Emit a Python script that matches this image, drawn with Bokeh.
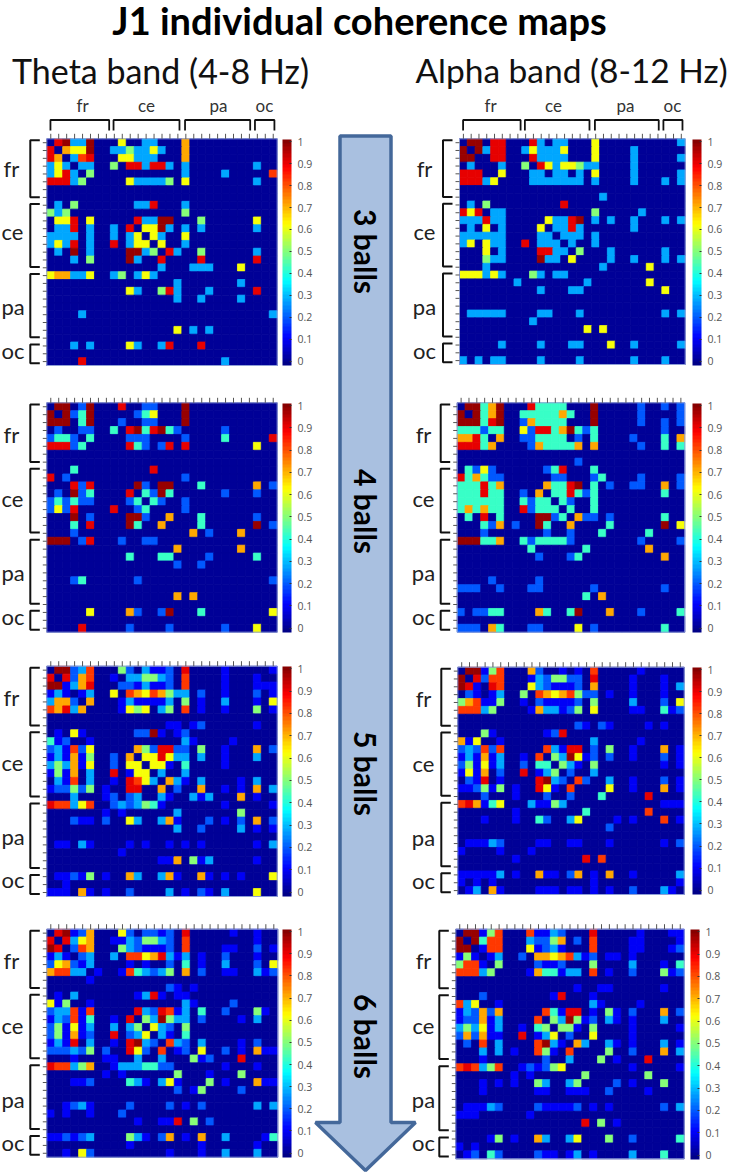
from math import pi
from bokeh.core.properties import value
from bokeh.embed import file_html
from bokeh.models import ColorBar, ColumnDataSource, FixedTicker, LinearColorMapper, Range1d
from bokeh.plotting import figure
from bokeh.resources import INLINE

# ---------- data: one string per row, one character per cell ----------
E = "..... ..... ..... ..... ..... ...."
CODE = {".": 0, "1": .1, "2": .2, "3": .28, "4": .42, "5": .5, "6": .62, "7": .72, "8": .82, "9": .9, "X": .98}
GROUPS = ["fr", "ce", "pa", "oc"]
GROUP_SPANS_ROW = [(.2, 7.47), (8.33, 16.4), (17.3, 25.4), (26.3, 28.7)]
GROUP_SPANS_COL = [(.46, 7.85), (8.4, 16.7), (17.4, 25.6), (26.2, 28.65)]
BAR_TICKS = [0, .1, .2, .3, .4, .5, .6, .7, .8, .9, 1]

THETA_3 = [
".9X33 X...6 ..33. ..7.. ..... ....",
"9.766 X..33 53363 ..7.. ..... ....",
"97.38 9...6 6333. ..7.. ..... ....",
"363.3 3..5. 99399 3.3.. ..... .3..",
"3693. 5.... ..... ..3.. ..3.. ...8",
"99935 ..... 63333 5.6.. ..... .3..",
E, E,
".3.5. ..... .339. ..3.. ..... ....",
"535.. ..... ..... ..5.. ..... ....",
".669. 6.... .933X X...5 ..... .6..",
".339. 3..3. 9.66X 3.3.3 ..... .3..",
"3333. 3..3. 36.63 ..6.. ..... ....",
"3639. 3..9. 366.6 ..3.. ..... ....",
".3.X. 3.... XX35. 93..5 ..... .3..",
"...3. 5.... X3..9 ....9 ..... .9..",
"..... ..... ....3 ...33 3...6 ....",
"67733 6..35 .363. ..... ..... ....",
"..... ..... ..... .3... ....3 ....",
"..... ..... 63..5 93... 3.... .9..",
"..... ..... ..... .3..3 ....3 ....",
E,
"....3 ..... ..... ..... ..... ...3",
E,
"..... ..... ..... .6.3. 3.... ....",
E,
"...3. 3.... 63..3 9...9 ..... ....",
E,
"....9 ..... ..... ..... ..3.. ....",
]
ALPHA_3 = [
".XX.9 9...9 3.33. ..6.. ..... ...3",
"X.X39 9..36 3336. ..6.. ..3.. ....",
"XX..9 9...9 3333. ..6.. ..3.. ...3",
".3... 3..5. 96366 533.. ..3.. ....",
"999.. 6...3 3.33. 3.6.. ..3.. ...3",
"99936 ....3 33333 3.3.. ..3.. .3.3",
E,
"..... ..... ..... ...3. ..... ....",
".3.5. ..... ...9. ..... ..... ....",
"969.3 3.... ..... ..5.. ...3. ....",
"33393 3.... .6339 X.3.3 ..3.. .3.3",
".3.6. 3.... 6.339 3.... ..3.. ....",
"33333 3.... 33.33 3.3.. ..... ....",
"36.63 3..9. 333.3 ..3.. ..... ....",
"...6. 3.... 9933. 5...3 ..... .3..",
"...53 3.... X33.6 ....3 ..3.. .3.3",
"...3. ..... ..... ...3. ....6 ....",
"66636 3...5 3.33. ..... ..... ....",
"..... ..3.. ..... .3... ....6 ....",
"..... ..... 3...3 3.... ..... .6..",
E, E,
".3333 3.... 33... 3.... ..... .3.3",
"..... ....3 ..... ..... ..... ....",
"..... ..... ..... .6.6. ..... ....",
E,
"..... 3.... 3...3 3...6 ..3.. ...3",
E,
"3.3.3 3.... 3.... 3.... ..3.. .3..",
]
THETA_4 = [
".XX.2 X...9 ..22. ..X.. ..... ....",
"X.X24 X.... .246. ..X.. ..... ....",
"XXX.4 X...2 ..22. ..X.. ..... ....",
".2..2 2..4. 9X49X 42... ..2.. ....",
"2442. 4.... 222.. ..2.. ..4.. ...9",
"99924 ..... 942.2 9.9.. ..... .6..",
E, E,
"...4. ..... ...9. ..... ..... ....",
"9.2.. ..... ..... ..2.. ..... ....",
"...92 9.... .X2.X X...4 ..... .7.2",
".2.X2 4.... 9.42X 4.... ..2.. .2..",
"24242 2.... 24.42 ..2.. ..... ....",
"2629. ...9. .24.. ..2.. ..... ....",
"...X. 2.... XX2.. 7...4 ..... .2..",
"...4. 9.... X4..7 ....4 ..... .X.2",
"...2. ..... ..... ...7. 2...7 ....",
"XXX.2 9...2 ..22. ..... ..... ....",
"..... ..... ..... .7... ....7 ....",
"..... ..... 4...4 4.... 2.... .4..",
"..... ..... ..... .2..2 ..... ....",
E,
"...24 ..... .2... ..... ..... ...2",
E,
"..... ..... ..... .7.7. ..... ....",
E,
"..... 6.... 72..2 X...4 ..... ...6",
E,
"....9 ..... 2.... 2.... ..2.. .6..",
]
ALPHA_4 = [
".XX47 X...9 4444. ..X.. ...2. .2.2",
"X.X47 X..44 44474 ..X.. ...2. ...2",
"XXX49 X..27 4444. ..X.. ...2. .2.2",
"44424 4..62 9947X 424.. ..... .2..",
"7794. 7..22 4444. 2.4.. ..2.. .4.7",
"99947 ....2 74444 7.7.. ...2. .4.4",
E,
"..... ..... ..... 2.... ..... ....",
".4262 ..... .249. ..4.. ..... ....",
"94742 2.... ..22. ..24. ...2. ...2",
"44494 7.... .7449 X.4.2 ..22. .7.2",
"44494 4..2. 7.449 424.. ..... .4..",
"44444 4..42 44.42 ..4.. ..... ....",
"47474 4..92 444.4 ..4.. ..... ....",
".4.9. 4.... XX24. 722.2 ..... .4..",
"...42 7.2.. X4..7 ....4 ..... .X.6",
"...2. ..... .2..2 ...4. ....4 ....",
"XXX44 7..42 44442 ..... ...2. ...2",
"..... ....4 ..... .4... ....7 ....",
"..... ..... 2...2 4.... ..... .7..",
E, E,
"....2 ..... 2.... ..... ..... ....",
"222.. 2...2 2.... ..2.. ..... .2..",
"..... ..... ..... .4.7. ..... ....",
E,
"2.224 4.... 74..4 X...7 ...2. ...4",
E,
"222.7 4...2 2.... 6.2.. ..... .4..",
]
THETA_5 = [
".XX23 8...5 2.311 2.9.. ..1.. ...1",
"9.927 8..1. 33553 2.8.. ..1.. .1..",
"XX137 9...2 21311 2.8.. ..1.. .111",
"131.1 3..6. 87687 533.2 ..1.. .2.1",
"3772. 7...1 31111 3.5.1 ..3.. .1.6",
"87937 ....1 656.3 5.8.1 ..1.. .5.1",
E,
"..... ..... ..... 11.12 ..... .1..",
".1.61 ..... .22X1 .12.. ..... ....",
"412.. 1.... ..... ..31. ...1. ....",
"23182 6.... .7529 922.5 ..1.. .7.2",
"13171 5..2. 7.669 633.3 ..1.. .3..",
"35371 6..2. 66.66 1.4.. ..1.. ....",
"1517. 3..9. 166.3 ..3.. ..... ....",
".318. 3..1. 9863. 731.3 ....1 .3..",
"12252 5.1.. 99..7 .2..7 ..1.1 .7.3",
"...3. ..12. 23..3 1..31 3...7 .1..",
"98836 8..23 23541 ..... ..1.. ...1",
"..... ..1.1 ..... .3... ....5 ....",
"...21 1.2.. 63..3 71... 2.1.2 .7.2",
"..... ..... ..... .3..2 ....3 .1.1",
E,
".11.3 1.... 1.1.. 1.1.1 ..... .1.3",
"..... ....1 ..... ..... ..... ....",
"..... ..... ....1 17.51 3.... .1..",
E,
".1121 5.1.. 73..3 71..7 1.1.1 ...6",
"..1.. ..... ..... ..... ..... ....",
"111.7 1.1.. 2.... 3.1.2 1.3.. .6..",
]
ALPHA_5 = [
".XX15 8...7 2..1. 1.8.. ...1. ....",
"X.928 8...1 32552 2.9.. ..1.. .1..",
"X91.9 8...6 32111 2.7.. ..1.. .1.3",
".21.1 3..5. 87678 522.1 ..1.. .1..",
"57811 5..1. 21111 2.5.. ..3.. .2.6",
"88835 ....1 73312 5.6.. ..11. .412",
E,
"..... ..... ..... 21.21 ....1 .1..",
"...51 ..... .129. ..... ..... ....",
"716.. 1.... ..... ..3.. ...1. ....",
"23282 8.... .8319 9.2.5 ..1.. .7.1",
"13171 3..1. 8.53X 612.2 ..1.. .2.1",
"25161 3..2. 44.53 1.5.. ..... .1.1",
"1617. 2..9. 135.2 ..3.. ..... ....",
".219. 1.... 9X32. 82..3 ..1.. .2.1",
"11251 5.1.. 961.8 ....6 ..1.. .7.1",
"...2. ..1.. .2..2 ...4. ....9 ....",
"89714 6...3 1153. ..... ..... .111",
"..... ..1.. ..... .4... ....8 ....",
"...1. ..1.. 42..3 6.... 1.1.. .8.1",
"..... ..... ..... ....2 ..... ....",
E,
".1113 2.... 11..1 1...1 ..... .1.2",
"1.... 1...1 ..... ..... ..... ....",
"..... ..1.. ..... .9.8. ..... ....",
E,
"11111 3.1.. 711.2 7.1.7 ..1.. ...3",
"1.1.1 ..... ..... ..1.. ..... ...1",
".13.7 1.... 111.1 1.1.1 ..2.. .31.",
]
THETA_6 = [
".9X12 7...6 2.221 2.9.. ...1. .1..",
"9.936 7..11 32553 2.8.. ..... .1..",
"X9.28 7...5 32111 2.8.. ..11. .2.1",
"131.2 3..3. 88679 313.1 ..2.. .1..",
"26721 3.... 1.1.. 2.4.1 ..3.. .2.6",
"78833 .1..1 84323 5.7.2 ..11. .312",
"..... 1.... ..... ..... ..... ....",
"..... ..... ..... 21.1. ..... ....",
".1.3. ..... .1391 .11.. ..... ....",
"615.. 1.... ..... ..31. ...2. ....",
"23381 8.... .9329 813.4 ..2.. .51.",
"13281 4..1. 9.53X 533.2 ....1 .3..",
"25161 3..3. 35.63 2.5.. ..... ....",
"25171 2..9. 236.3 1.4.. ..... ....",
"1319. 3..1. 9X32. 832.3 ....1 .2..",
"22232 5.2.. 962.8 .12.6 ..2.1 .711",
"...1. ..11. .3..3 ...51 2...9 ....",
"98835 7..13 33442 2.... ..1.. .1..",
"..... ..1.1 ..... .5... 1...5 ....",
"...11 2.... 431.3 61... 5.1.. .711",
"..... ..... ..... .2.15 ....2 ....",
E,
"..123 1.... 2.... 2.1.2 ..... .3.3",
"1.1.. 1...2 ..... ..... ..... ....",
"..... ..... .1..1 19.5. 2.... ....",
E,
"11212 3.... 531.2 7.1.7 ..3.. ..14",
"..... ..... 1.... ....1 ..... .1..",
"..1.6 2.... ..... 1...1 ..3.. .3..",
]
ALPHA_6 = [
".XX15 8...8 1132. ..9.. ...1. ..11",
"X.X48 8...3 2257. 2.8.. ..11. ...1",
"XX.18 8...6 1231. ..8.. ..11. ..12",
"151.1 3..2. 77678 312.1 1.1.. ....",
"5881. 5.... 2112. ..5.. ..3.. .1.4",
"88835 ....1 74413 3.8.1 ..2.. .512",
E,
"..... ..... ..... 1..11 ..... .1..",
"...2. ..... ..19. ..1.. ..... ....",
"836.. 1.... ..... ..31. ...1. ....",
"13272 7.... .8419 9.1.5 1.2.. .7.2",
"12271 3.... 8.53X 512.3 1.1.. .3..",
"35361 3..1. 45.55 1.5.. ..1.. ...1",
"27271 1..9. 136.2 ..6.. ..1.. ....",
".2.8. 3.... 8X31. 73..3 1.1.. .3.1",
"...3. 3.1.. 851.8 ....5 ..2.. .7.3",
"...1. ..... .2..3 ...5. 1...9 ....",
"89835 8..12 1256. ..... ..1.. ...1",
"..... ..1.1 ..... .5... ....5 ....",
"...1. 1.1.. 53..3 5.... 2.1.. .5..",
"...1. ..... 11..1 11..2 ....1 ....",
E,
".1113 2.... 21111 2.1.1 ..... .2.3",
"111.. ....1 ..... ..... ..... ....",
"..... ..... ..... .9.5. 1.... ....",
E,
"....1 5.1.. 73..3 6...5 ..2.. ...4",
"1.1.. ..... ..... ..... ..... ....",
".12.4 2.... 211.1 3.1.. ..3.. .4..",
]
MAPS = [THETA_3, ALPHA_3, THETA_4, ALPHA_4, THETA_5, ALPHA_5, THETA_6, ALPHA_6]

# ---------- page geometry (pixels on the page) ----------
W, H = 730, 1173
N = 29
BOX = [(46.3, 276.7, 138.3, 365), (459, 684.7, 138.3, 364),
       (46.3, 276.7, 402.3, 631.7), (456.7, 684.3, 402.3, 631.7),
       (46.3, 276.7, 665.7, 896), (457.3, 683.7, 666.7, 894),
       (46.3, 277.3, 928.7, 1156.7), (455.3, 683.7, 928.7, 1158.3)]
BAR = [(282, 139, 365), (692, 139, 365),
       (282, 403, 632), (692, 403, 632),
       (282, 666, 896), (692, 667, 894),
       (282, 929, 1157), (690, 929, 1159)]
LABEL_X = [1, 424, 1, 423, 1, 423, 1, 423]
LABEL_DY = [(29.7, 93, 168, 212), (29.7, 93, 168, 212)] + [(31.5, 96, 170, 213.5)] * 6
TOP_LABEL_X = [[82, 146, 218, 264], [490, 553, 625, 672]]
BALLS = [("3 balls", 251), ("4 balls", 511), ("5 balls", 773), ("6 balls", 1036)]

FONT = value("Lato")

# Matlab-style jet palette (colour scale definition)
def jet(n=64):
    out = []
    for i in range(n):
        v = (i + .5) / n
        r = min(1, max(0, 1.5 - abs(4 * v - 3)))
        g = min(1, max(0, 1.5 - abs(4 * v - 2)))
        b = min(1, max(0, 1.5 - abs(4 * v - 1)))
        out.append("#%02x%02x%02x" % (round(r * 255), round(g * 255), round(b * 255)))
    return out

mapper = LinearColorMapper(palette=jet(), low=-.02, high=1.01)

p = figure(width=W, height=H, x_range=Range1d(0, W), y_range=Range1d(H, 0),
           output_backend="svg", toolbar_location=None, min_border=0)
p.axis.visible = False
p.grid.visible = False
p.outline_line_color = None
p.background_fill_color = "white"
p.border_fill_color = "white"

# ---------- arrow ----------
ax = [339.5, 390.5, 390.5, 415, 365, 315, 339.5, 339.5]
ay = [135.5, 135.5, 1122, 1122, 1170, 1122, 1122, 135.5]
p.patch(ax, ay, fill_color="#a9c0e0", line_color="#44689a", line_width=3.5)
for t, yc in BALLS:
    p.text([365], [yc], text=[t], angle=-pi / 2, text_font=FONT, text_font_style="bold",
           text_font_size="30px", text_align="center", text_baseline="middle", text_color="#000000")

# ---------- titles ----------
p.text([359], [19], text=["J1 individual coherence maps"], text_font=FONT, text_font_style="bold",
       text_font_size="38px", text_align="center", text_baseline="middle", text_color="#000000")
p.text([160], [69.5], text=["Theta band (4-8 Hz)"], text_font=FONT, text_font_size="34px",
       text_align="center", text_baseline="middle", text_color="#111111")
p.text([571], [69.5], text=["Alpha band (8-12 Hz)"], text_font=FONT, text_font_size="33.5px",
       text_align="center", text_baseline="middle", text_color="#111111")

# ---------- panels ----------
for k, (rows, box, bar) in enumerate(zip(MAPS, BOX, BAR)):
    L, R, T, B = box
    cw, ch = (R - L) / N, (B - T) / N
    xname, yname = f"mx{k}", f"my{k}"
    p.extra_x_ranges[xname] = Range1d((0 - L) / cw, (W - L) / cw)
    p.extra_y_ranges[yname] = Range1d((H - T) / ch, (0 - T) / ch)

    cells = [r.replace(" ", "") for r in rows]
    bad = [(k, i, len(r)) for i, r in enumerate(cells) if len(r) != N]
    if bad or len(cells) != N:
        raise ValueError(f"bad rows {bad} count {len(cells)} map {k}")
    src = ColumnDataSource(dict(
        col=[c + .5 for _ in range(N) for c in range(N)],
        row=[r + .5 for r in range(N) for _ in range(N)],
        val=[CODE[ch_] for r in cells for ch_ in r],
    ))
    cmap = {"field": "val", "transform": mapper}
    p.rect("col", "row", width=1, height=1, source=src, x_range_name=xname, y_range_name=yname,
           fill_color=cmap, line_color=cmap, line_width=0.8)
    p.quad(left=[0], right=[N], top=[0], bottom=[N], x_range_name=xname, y_range_name=yname,
           fill_color=None, line_color="#8f9fd6", line_width=1)

    # ticks: x position on the panel scale, tick length in page pixels
    centres = [i + .5 for i in range(N)]
    p.segment(x0=centres, x1=centres, y0=[T - 5] * N, y1=[T] * N, x_range_name=xname,
              line_color="#555555", line_width=1)
    p.segment(x0=[L - 4] * N, x1=[L] * N, y0=centres, y1=centres, y_range_name=yname,
              line_color="#555555", line_width=1)

    # group brackets on the left
    bx, ax_end = L - 16.5, L - 7
    xs = [[ax_end, bx, bx, ax_end] for _ in GROUP_SPANS_ROW]
    ys = [[a, a, b, b] for a, b in GROUP_SPANS_ROW]
    p.multi_line(xs, ys, y_range_name=yname, line_color="#111111", line_width=2)
    for g, dy in zip(GROUPS, LABEL_DY[k]):
        left = k % 2 == 0
        p.text([LABEL_X[k] + (2 if left and g == "fr" else 0)], [T + dy], text=[g], text_font=FONT,
               text_font_size="22px", text_align="left" if left else "center",
               text_baseline="middle", text_color="#222222")

    # group brackets on top, first row only
    if k < 2:
        ty, tb = 119.5, 130
        xs = [[a, a, b, b] for a, b in GROUP_SPANS_COL]
        ys = [[tb, ty, ty, tb] for _ in GROUP_SPANS_COL]
        p.multi_line(xs, ys, x_range_name=xname, line_color="#111111", line_width=1.8)
        for g, x in zip(GROUPS, TOP_LABEL_X[k]):
            p.text([x], [105], text=[g], text_font=FONT, text_font_size="17px",
                   text_align="center", text_baseline="middle", text_color="#333333")

    # colour bar: location is the bar's lower-left corner, measured from the frame's lower-left
    bx0, by0, by1 = bar
    cb = ColorBar(color_mapper=mapper, location=(bx0, H - by1), width=9, height=by1 - by0,
                  ticker=FixedTicker(ticks=BAR_TICKS), padding=0, margin=0, label_standoff=6,
                  major_label_text_font="Open Sans", major_label_text_font_size="10.5px",
                  major_label_text_color="#555555", major_tick_line_color="#333333",
                  major_tick_in=2, major_tick_out=0, minor_tick_line_color=None,
                  bar_line_color=None, border_line_color=None, background_fill_alpha=0)
    p.add_layout(cb, "center")

open("out.html", "w").write(file_html(p, INLINE))
